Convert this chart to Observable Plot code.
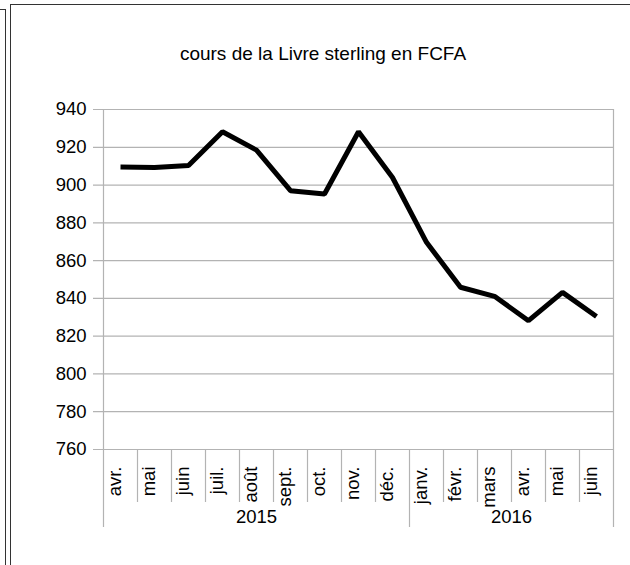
<!DOCTYPE html>
<html>
<head>
<meta charset="utf-8">
<script src="https://cdn.jsdelivr.net/npm/d3@7"></script>
<script src="https://cdn.jsdelivr.net/npm/@observablehq/plot@0.6"></script>
<style>
  html, body { margin: 0; padding: 0; background: #fff; }
  #wrap { position: relative; width: 630px; height: 565px; overflow: hidden; font-family: "Liberation Sans", Arial, sans-serif; }
  #wrap svg { position: absolute; left: 0; top: 0; }
  .frame1 { position: absolute; left: -2px; top: 9px; width: 7px; height: 600px; border-top: 1px solid #333; border-right: 1px solid #333; }
  .frame2 { position: absolute; left: 10px; top: 4px; width: 640px; height: 600px; border-top: 1.5px solid #333; border-left: 1.5px solid #333; }
</style>
</head>
<body>
<div id="wrap"><div class="frame1"></div><div class="frame2"></div></div>
<script>
const title = "cours de la Livre sterling en FCFA";
const months = ["avr.", "mai", "juin", "juil.", "août", "sept.", "oct.", "nov.", "déc.", "janv.", "févr.", "mars", "avr.", "mai", "juin"];
const years = [2015, 2015, 2015, 2015, 2015, 2015, 2015, 2015, 2015, 2016, 2016, 2016, 2016, 2016, 2016];
const values = [909.5, 909.3, 910.3, 928.2, 918.5, 897, 895.3, 928.2, 904, 869.7, 845.9, 841.1, 828.2, 843.2, 830.4];
const yTicks = [760, 780, 800, 820, 840, 860, 880, 900, 920, 940];

const data = months.map((m, i) => ({i, month: m, year: years[i], value: values[i]}));
const yearGroups = d3.groups(data, d => d.year).map(([year, rows]) => ({
  year, start: rows[0].i, end: rows[rows.length - 1].i
}));
const monthSeps = data.slice(1).map(d => d.i - 0.5).filter(b => !yearGroups.some(g => g.start - 0.5 === b));
const yearSeps = [...yearGroups.map(g => g.start - 0.5), yearGroups[yearGroups.length - 1].end + 0.5];
const edgeSeps = [yearSeps[0], yearSeps[yearSeps.length - 1]];
const innerYearSeps = yearSeps.slice(1, -1);

const grid = "#b3b3b3";
const fs = 18.5;

const chart = Plot.plot({
  width: 630,
  height: 565,
  marginLeft: 103,
  marginRight: 17,
  marginTop: 109,
  marginBottom: 116,
  style: {fontFamily: "'Liberation Sans', Arial, sans-serif", background: "transparent", color: "#000"},
  x: {type: "linear", domain: [-0.5, months.length - 0.5], axis: null},
  y: {domain: [760, 940], axis: null},
  marks: [
    Plot.ruleY(yTicks, {y: d => d, stroke: grid, strokeWidth: 1.2, insetLeft: -10}),
    Plot.ruleX(edgeSeps, {x: d => d, stroke: grid, strokeWidth: 1.2, insetBottom: -78}),
    Plot.ruleX(innerYearSeps, {x: d => d, stroke: grid, strokeWidth: 1.2, insetTop: 340, insetBottom: -78}),
    Plot.ruleX(monthSeps, {x: d => d, stroke: grid, strokeWidth: 1.2, insetTop: 340, insetBottom: -53}),
    Plot.axisY(yTicks, {tickSize: 0, tickPadding: 17, fontSize: fs, tickFormat: d => String(d), fill: "#000", label: null}),
    Plot.line(data, {x: "i", y: "value", stroke: "#000", strokeWidth: 5, strokeLinejoin: "miter", strokeLinecap: "butt"}),
    Plot.text(data, {x: "i", text: "month", frameAnchor: "bottom", dy: 17, rotate: -90, textAnchor: "end", fontSize: fs, fill: "#000"}),
    Plot.text(yearGroups, {x: d => (d.start + d.end) / 2, text: d => String(d.year), frameAnchor: "bottom", dy: 73, fontSize: fs, fill: "#000"}),
    Plot.text([title], {text: d => d, frameAnchor: "top", dx: -35.5, dy: -63, fontSize: 19, fill: "#000"})
  ]
});
document.getElementById("wrap").appendChild(chart);
</script>
</body>
</html>
